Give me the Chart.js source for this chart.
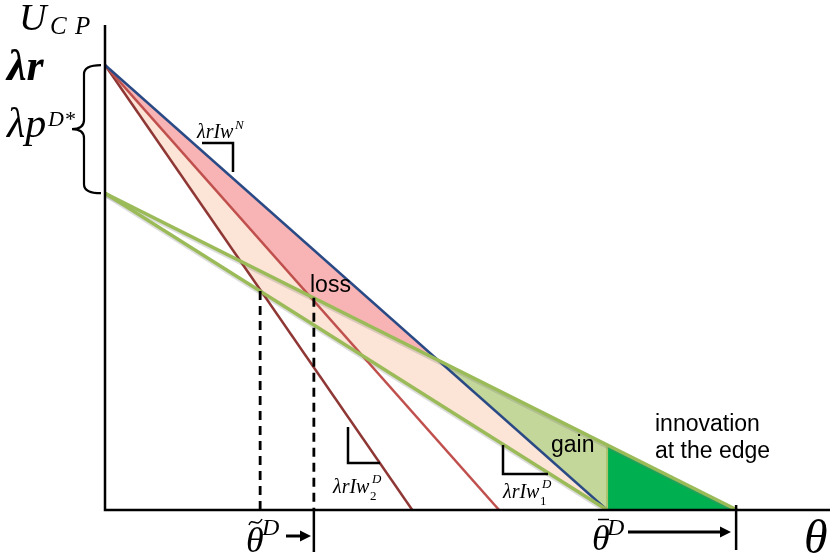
<!DOCTYPE html>
<html><head><meta charset="utf-8">
<script src="https://cdn.jsdelivr.net/npm/chart.js@4.4.1/dist/chart.umd.min.js"></script>
<style>html,body{margin:0;padding:0;background:#fff}#wrap{width:830px;height:559px}</style>
</head><body><div id="wrap"><canvas id="c" width="830" height="559"></canvas></div>
<script>
// ---- data (model units: theta on x, U_CP on y) ----
const lineNames   = ['blue', 'lightRed', 'darkRed', 'upperGreen', 'lowerGreen'];
const interceptsU = [1.0, 1.0, 1.0, 0.712, 0.712];   // U at theta = 0
const zerosTheta  = [1.0, 0.785, 0.612, 1.259, 1.0]; // theta where U = 0
const dashThetas  = [0.309, 0.416];                  // theta~D and the shifted cutoff
const textLabels  = ['loss', 'gain', 'innovation', 'at the edge'];

// ---- helpers ----
const U = (i, t) => interceptsU[i] * (1 - t / zerosTheta[i]);
const slope = i => interceptsU[i] / zerosTheta[i];
function meet(i, j) {
  const t = (interceptsU[i] - interceptsU[j]) / (slope(i) - slope(j));
  return {x: t, y: U(i, t)};
}
const B = 0, LR = 1, DR = 2, UG = 3, LG = 4;
const lineData = i => [{x: 0, y: interceptsU[i]}, {x: zerosTheta[i], y: 0}];

const P1 = meet(DR, LG);
const P2 = meet(LR, UG);
const Q  = meet(B, UG);
const R  = {x: zerosTheta[B], y: U(UG, zerosTheta[B])};
const apex = {x: 0, y: interceptsU[B]};
const bEnd = {x: zerosTheta[B], y: 0};
const gEnd = {x: zerosTheta[UG], y: 0};

const lineColors = ['#2a4a86', '#c0504d', '#8e3735', '#9bbb59', '#9bbb59'];
const lineWidths = [2.5, 2.5, 2.5, 3.5, 3.5];

const datasets = [];
function shape(pts, color, order, border) {
  datasets.push({data: pts.concat([pts[0]]), fill: 'shape', backgroundColor: color,
    borderColor: border || 'rgba(0,0,0,0)', borderWidth: border ? 2 : 0,
    pointRadius: 0, order: order, tension: 0});
}
shape([apex, bEnd, P1], '#fce4d6', 20);
shape([apex, Q, P2], '#f8b4b4', 19);
shape([Q, R, bEnd], '#c4d79b', 18);
shape([R, gEnd, bEnd], '#00b050', 17, '#a9c46c');

// soft shadow under the green lines
[UG, LG].forEach(i => {
  datasets.push({data: lineData(i).map(p => ({x: p.x, y: p.y - 0.004})), borderColor: 'rgba(120,120,120,0.25)',
    borderWidth: 4, pointRadius: 0, fill: false, order: 4});
});
lineNames.forEach((n, i) => {
  datasets.push({label: n, data: lineData(i), borderColor: lineColors[i], borderWidth: lineWidths[i],
    pointRadius: 0, fill: false, order: (i >= 3 ? 1 : (i === 0 ? 2 : 3))});
});
dashThetas.forEach((t, k) => {
  const g = k === 0 ? LG : UG;
  datasets.push({data: [{x: t, y: U(g, t)}, {x: t, y: 0}], borderColor: '#000', borderWidth: 2.8,
    borderDash: [9, 6], pointRadius: 0, fill: false, order: 0});
});

const SERIF = '"Liberation Serif", "DejaVu Serif", serif';
const SANS = '"Liberation Sans", Arial, sans-serif';

const decor = {
  id: 'decor',
  afterDatasetsDraw(chart) {
    const ctx = chart.ctx;
    const xs = chart.scales.x, ys = chart.scales.y;
    const x0 = xs.getPixelForValue(0), y0 = ys.getPixelForValue(0);
    ctx.save();
    ctx.strokeStyle = '#000'; ctx.fillStyle = '#000'; ctx.lineCap = 'butt';
    // axes
    ctx.lineWidth = 2.5;
    ctx.beginPath(); ctx.moveTo(x0, chart.chartArea.top); ctx.lineTo(x0, y0);
    ctx.lineTo(chart.width, y0); ctx.stroke();
    // brace
    const yt = ys.getPixelForValue(interceptsU[B]), yb = ys.getPixelForValue(interceptsU[UG]);
    const ym = (yt + yb) / 2, bx = 84;
    ctx.lineWidth = 2.2;
    ctx.beginPath();
    ctx.moveTo(101, yt); ctx.quadraticCurveTo(bx, yt, bx, yt + 9);
    ctx.lineTo(bx, ym - 9); ctx.quadraticCurveTo(bx, ym, bx - 12, ym);
    ctx.quadraticCurveTo(bx, ym, bx, ym + 9);
    ctx.lineTo(bx, yb - 9); ctx.quadraticCurveTo(bx, yb, 101, yb);
    ctx.stroke();
    // slope markers
    ctx.lineWidth = 2.5;
    const poly = pts => { ctx.beginPath(); ctx.moveTo(pts[0][0], pts[0][1]); pts.slice(1).forEach(p => ctx.lineTo(p[0], p[1])); ctx.stroke(); };
    poly([[202, 143], [233, 143], [233, 172]]);
    poly([[348, 427], [348, 463], [380, 463]]);
    poly([[503, 445], [503, 474], [548, 474]]);
    // math text
    ctx.textBaseline = 'alphabetic';
    ctx.font = 'italic 38px ' + SERIF; ctx.fillText('U', 19, 30);
    ctx.font = 'italic 25px ' + SERIF; ctx.fillText('C', 50, 34); ctx.fillText('P', 75, 34);
    ctx.font = 'bold italic 44px ' + SERIF; ctx.fillText('\u03bbr', 7, 80);
    ctx.font = 'italic 42px ' + SERIF; ctx.fillText('\u03bbp', 7, 137);
    ctx.font = 'italic 22px ' + SERIF; ctx.fillText('D*', 48, 126);

    ctx.font = 'italic 20px ' + SERIF; ctx.fillText('\u03bbrIw', 197, 138);
    ctx.font = 'italic 13px ' + SERIF; ctx.fillText('N', 235, 129);
    ctx.font = 'italic 20px ' + SERIF; ctx.fillText('\u03bbrIw', 333, 493);
    ctx.font = 'italic 13px ' + SERIF; ctx.fillText('D', 372, 483);
    ctx.font = '13px ' + SERIF; ctx.fillText('2', 370, 500);
    ctx.font = 'italic 20px ' + SERIF; ctx.fillText('\u03bbrIw', 503, 498);
    ctx.font = 'italic 13px ' + SERIF; ctx.fillText('D', 542, 488);
    ctx.font = '13px ' + SERIF; ctx.fillText('1', 540, 505);

    ctx.font = 'italic 48px ' + SERIF; ctx.fillText('\u03b8', 804, 553);
    // theta bar D
    ctx.font = 'italic 36px ' + SERIF; ctx.fillText('\u03b8', 592, 550);
    ctx.lineWidth = 1.5; ctx.beginPath(); ctx.moveTo(598, 519.5); ctx.lineTo(609, 519.5); ctx.stroke();
    ctx.font = 'italic 24px ' + SERIF; ctx.fillText('D', 607, 535);
    // theta tilde D
    ctx.font = 'italic 36px ' + SERIF; ctx.fillText('\u03b8', 246, 552);
    ctx.lineWidth = 1.5; ctx.beginPath(); ctx.moveTo(249, 525);
    ctx.bezierCurveTo(252, 516, 257, 529, 262, 519); ctx.stroke();
    ctx.font = 'italic 24px ' + SERIF; ctx.fillText('D', 262, 535);
    // arrows
    const arrow = (xa, xb, y) => {
      ctx.lineWidth = 3; ctx.beginPath(); ctx.moveTo(xa, y); ctx.lineTo(xb - 6, y); ctx.stroke();
      ctx.beginPath(); ctx.moveTo(xb, y); ctx.lineTo(xb - 11, y - 5.5); ctx.lineTo(xb - 11, y + 5.5); ctx.closePath(); ctx.fill();
    };
    arrow(286, 311, 536);
    arrow(628, 731, 532);
    const tx = xs.getPixelForValue(dashThetas[1]);
    ctx.lineWidth = 2.5;
    ctx.beginPath(); ctx.moveTo(tx, y0); ctx.lineTo(tx, 552); ctx.stroke();
    const ex = xs.getPixelForValue(zerosTheta[UG]) - 1;
    ctx.beginPath(); ctx.moveTo(ex, 505); ctx.lineTo(ex, 550); ctx.stroke();
    // region labels
    ctx.font = '23px ' + SANS;
    ctx.fillText(textLabels[0], 310, 292);
    ctx.fillText(textLabels[1], 551, 452);
    ctx.fillText(textLabels[2], 655, 431);
    ctx.fillText(textLabels[3], 655, 458);
    ctx.restore();
  }
};

new Chart(document.getElementById('c'), {
  type: 'line',
  data: {datasets: datasets},
  options: {
    responsive: false, animation: false, parsing: true,
    layout: {padding: {left: 105, top: 25, right: 0, bottom: 49}},
    scales: {
      x: {type: 'linear', min: 0, max: 1.444, display: false},
      y: {type: 'linear', min: 0, max: 1.09, display: false}
    },
    plugins: {legend: {display: false}, tooltip: {enabled: false}}
  },
  plugins: [decor]
});
</script></body></html>
